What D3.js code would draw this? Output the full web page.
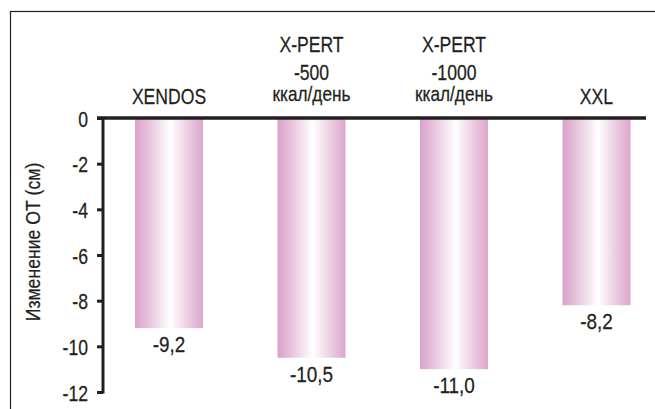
<!DOCTYPE html>
<html>
<head>
<meta charset="utf-8">
<script src="https://cdn.jsdelivr.net/npm/d3@7"></script>
<style>
  html, body { margin: 0; padding: 0; background: #fff; }
  svg { display: block; }
  text { font-family: "Liberation Sans", Arial, sans-serif; fill: #231f20; stroke: #231f20; stroke-width: 0.25px; }
</style>
</head>
<body>
<svg id="chart" width="655" height="409"></svg>
<script>
// Groups shown above the bars (each entry is a list of label lines)
const categories = [
  ["XENDOS"],
  ["X-PERT", "-500", "ккал/день"],
  ["X-PERT", "-1000", "ккал/день"],
  ["XXL"]
];
const categoryKeys = ["XENDOS", "X-PERT 500", "X-PERT 1000", "XXL"];
// Waist circumference change, cm
const values = [-9.2, -10.5, -11.0, -8.2];
const valueLabels = ["-9,2", "-10,5", "-11,0", "-8,2"];
const yTicks = [0, -2, -4, -6, -8, -10, -12];
const yTitle = "Изменение ОТ (см)";

const svg = d3.select("#chart");
const ink = "#231f20";
const narrow = 0.8;       // horizontal squeeze for a condensed look
const fontSize = 22;

// condensed text helper
function label(parent, x, y, str, opts = {}) {
  const sx = opts.sx || narrow;
  return parent.append("text")
    .attr("transform", `translate(${x},${y}) scale(${sx},1)`)
    .attr("text-anchor", opts.anchor || "middle")
    .attr("font-size", opts.size || fontSize)
    .text(str);
}

// outer frame (left and top edges visible)
svg.append("rect")
  .attr("x", 10.5).attr("y", 11.5)
  .attr("width", 700).attr("height", 450)
  .attr("fill", "none").attr("stroke", ink).attr("stroke-width", 1.2);

const y = d3.scaleLinear().domain([0, -12]).range([118, 392]);
const x = d3.scaleBand().domain(categoryKeys).range([60.5, 705]).padding(0.523);

// bar gradient: pink edges, white highlight just right of centre
const defs = svg.append("defs");
const grad = defs.append("linearGradient").attr("id", "barGrad")
  .attr("x1", "0%").attr("x2", "100%").attr("y1", "0%").attr("y2", "0%");
grad.append("stop").attr("offset", "0%").attr("stop-color", "#daa1c9");
grad.append("stop").attr("offset", "22%").attr("stop-color", "#e8c6de");
grad.append("stop").attr("offset", "52%").attr("stop-color", "#ffffff");
grad.append("stop").attr("offset", "78%").attr("stop-color", "#ebcde2");
grad.append("stop").attr("offset", "100%").attr("stop-color", "#dca6cc");

// bars
svg.append("g").selectAll("rect")
  .data(values)
  .join("rect")
  .attr("x", (d, i) => x(categoryKeys[i]))
  .attr("y", y(0))
  .attr("width", x.bandwidth())
  .attr("height", d => y(d) - y(0))
  .attr("fill", "url(#barGrad)");

// value labels under each bar
const gv = svg.append("g");
values.forEach((v, i) => {
  label(gv, x(categoryKeys[i]) + x.bandwidth() / 2, y(v) + 24, valueLabels[i], { sx: 0.86 });
});

// y axis
const yAxis = d3.axisLeft(y)
  .tickValues(yTicks)
  .tickSize(6)
  .tickFormat(d => String(d));
const gy = svg.append("g").attr("transform", "translate(103,0)").call(yAxis);
gy.select(".domain").remove();
gy.selectAll(".tick line").attr("stroke", ink).attr("stroke-width", 3);
gy.selectAll(".tick text")
  .attr("x", null)
  .attr("dy", null)
  .attr("transform", `translate(-15,8) scale(${narrow},1)`)
  .attr("font-size", fontSize)
  .attr("font-family", null)
  .attr("fill", ink);
svg.append("line")
  .attr("x1", 103).attr("x2", 103)
  .attr("y1", y(0)).attr("y2", y(-12) + 1.5)
  .attr("stroke", ink).attr("stroke-width", 3);

// zero baseline across the plot
svg.append("line")
  .attr("x1", 97).attr("x2", 646)
  .attr("y1", y(0)).attr("y2", y(0))
  .attr("stroke", ink).attr("stroke-width", 3.5);

// category labels above the bars, bottom-aligned
const lineBaselines = { 1: [104], 3: [52, 80, 101] };
const lineSizes = { 1: [22], 3: [22, 22, 20] };
categories.forEach((lines, i) => {
  const cx = x(categoryKeys[i]) + x.bandwidth() / 2;
  const g = svg.append("g");
  lines.forEach((t, j) => label(g, cx, lineBaselines[lines.length][j], t,
    { size: lineSizes[lines.length][j], sx: j === 2 ? 0.86 : narrow }));
});

// y axis title
label(svg, 40, 242, yTitle, { size: 21, sx: 0.84 })
  .attr("transform", "translate(40,242) rotate(-90) scale(0.84,1)");
</script>
</body>
</html>
